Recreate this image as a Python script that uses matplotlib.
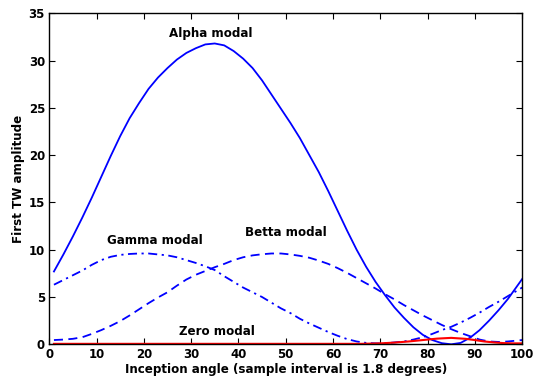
import matplotlib
matplotlib.use("Agg")
import matplotlib.pyplot as plt

plt.rcParams['font.family'] = ['DejaVu Sans']
plt.rcParams['font.weight'] = 'bold'

alpha_x = [1, 3, 5, 7, 9, 11, 13, 15, 17, 19, 21, 23, 25, 27, 29, 31, 33, 35, 37, 39, 41, 43, 45, 47, 49,
           51, 53, 55, 57, 59, 61, 63, 65, 67, 69, 71, 73, 75, 77, 79, 81, 83, 85, 87, 89, 91, 93, 95, 97, 99, 100]
alpha_y = [7.7, 9.5, 11.4, 13.4, 15.5, 17.7, 19.9, 22.0, 23.9, 25.5, 27.0, 28.2, 29.2, 30.1, 30.8, 31.3, 31.7,
           31.8, 31.6, 31.0, 30.2, 29.2, 27.9, 26.4, 24.9, 23.4, 21.8, 20.0, 18.2, 16.2, 14.1, 12.0, 10.0, 8.2,
           6.6, 5.2, 3.9, 2.8, 1.8, 1.0, 0.45, 0.12, 0.0, 0.15, 0.7, 1.5, 2.5, 3.6, 4.8, 6.2, 6.9]

gamma_x = [1, 3, 5, 7, 9, 11, 13, 15, 17, 19, 21, 23, 25, 27, 29, 31, 33, 35, 37, 39, 41, 43, 45, 47, 49,
           51, 53, 55, 57, 59, 61, 63, 65, 67, 69, 71, 73, 75, 77, 79, 81, 83, 85, 87, 89, 91, 93, 95, 97, 99, 100]
gamma_y = [6.3, 6.8, 7.3, 7.8, 8.4, 8.9, 9.25, 9.45, 9.55, 9.6, 9.6, 9.5, 9.4, 9.2, 8.9, 8.6, 8.25, 7.85,
           7.2, 6.6, 6.0, 5.5, 5.0, 4.4, 3.8, 3.3, 2.7, 2.2, 1.75, 1.3, 0.9, 0.55, 0.3, 0.15, 0.1, 0.1, 0.2,
           0.3, 0.5, 0.75, 1.1, 1.5, 1.85, 2.3, 2.8, 3.35, 3.95, 4.5, 5.1, 5.7, 6.0]

betta_x = [1, 3, 5, 7, 9, 11, 13, 15, 17, 19, 21, 23, 25, 27, 29, 31, 33, 35, 37, 39, 41, 43, 45, 47, 49,
           51, 53, 55, 57, 59, 61, 63, 65, 67, 69, 71, 73, 75, 77, 79, 81, 83, 85, 87, 89, 91, 93, 95, 97, 99, 100]
betta_y = [0.45, 0.5, 0.58, 0.75, 1.1, 1.5, 1.95, 2.45, 3.05, 3.7, 4.35, 4.95, 5.5, 6.2, 6.85, 7.35, 7.75,
           8.15, 8.5, 8.9, 9.2, 9.4, 9.52, 9.6, 9.6, 9.5, 9.35, 9.15, 8.85, 8.5, 8.05, 7.55, 7.0, 6.45, 5.9,
           5.3, 4.75, 4.15, 3.6, 3.05, 2.55, 2.05, 1.6, 1.2, 0.85, 0.5, 0.3, 0.25, 0.3, 0.4, 0.45]

zero_x = [1, 10, 20, 30, 40, 50, 60, 66, 70, 73, 76, 79, 82, 85, 88, 90, 92, 94, 96, 98, 100]
zero_y = [0.05, 0.05, 0.05, 0.05, 0.05, 0.05, 0.05, 0.05, 0.1, 0.18, 0.3, 0.45, 0.6, 0.68, 0.58, 0.45,
          0.3, 0.2, 0.13, 0.1, 0.1]

labels = ["Alpha modal", "Gamma modal", "Betta modal", "Zero modal"]
label_pos = [(34.1, 32.9), (22.3, 11.0), (50.1, 11.8), (35.4, 1.4)]

x_ticks = list(range(0, 101, 10))
y_ticks = list(range(0, 36, 5))

fig = plt.figure(figsize=(5.35, 3.85), dpi=100)
ax = fig.add_axes([0.092, 0.1057, 0.884, 0.86])

ax.plot(alpha_x, alpha_y, color=(0, 0, 1), lw=1.3, ls='-')
ax.plot(betta_x, betta_y, color=(0, 0, 1), lw=1.3, ls=(0, (5, 3)))
ax.plot(gamma_x, gamma_y, color=(0, 0, 1), lw=1.3, ls=(0, (5, 2.5, 1.2, 2.5)))
ax.plot(zero_x, zero_y, color=(1, 0, 0), lw=1.5, ls='-')

for t, (x, y) in zip(labels, label_pos):
    ax.text(x, y, t, ha='center', va='center', fontsize=8.6, fontweight='bold')

ax.set_xlim(0, 100)
ax.set_ylim(0, 35)
ax.set_xticks(x_ticks)
ax.set_yticks(y_ticks)
ax.tick_params(direction='in', top=True, right=True, length=4, width=0.8, labelsize=8.5, pad=3)
for lab in ax.get_xticklabels() + ax.get_yticklabels():
    lab.set_fontweight('bold')
for s in ax.spines.values():
    s.set_linewidth(1.0)
ax.set_xlabel("Inception angle (sample interval is 1.8 degrees)", fontsize=8.6, fontweight='bold', labelpad=1)
ax.set_ylabel("First TW amplitude", fontsize=8.6, fontweight='bold', labelpad=3)

fig.savefig("out.png", dpi=100)
